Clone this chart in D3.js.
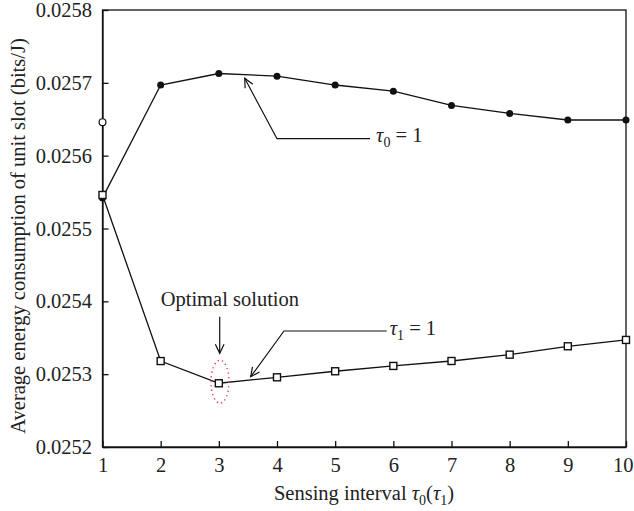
<!DOCTYPE html>
<html>
<head>
<meta charset="utf-8">
<script src="https://cdn.jsdelivr.net/npm/d3@7"></script>
</head>
<body style="margin:0;padding:0;background:#fff">
<svg id="chart" width="634" height="511" style="display:block"></svg>
<script>
// ---- data ----
const intervals = [1, 2, 3, 4, 5, 6, 7, 8, 9, 10];
const tau0Series = [0.025542, 0.025697, 0.0257128, 0.0257092, 0.025697, 0.0256886, 0.025669, 0.025658, 0.025649, 0.025649];
const tau1Series = [0.025546, 0.025318, 0.0252875, 0.0252957, 0.025304, 0.0253113, 0.0253181, 0.0253268, 0.0253383, 0.025347];
const extraPoint = [1, 0.025646]; // open circle on the y axis
const xTicks = [1, 2, 3, 4, 5, 6, 7, 8, 9, 10];
const yTicks = [0.0252, 0.0253, 0.0254, 0.0255, 0.0256, 0.0257, 0.0258];

// annotation anchors in data units
const tau0Callout = [[5.6, 0.0256233], [4.0, 0.0256233], [3.445, 0.0257062]];
const tau1Callout = [[5.886, 0.0253593], [4.12, 0.0253593], [3.548, 0.0252965]];
const optimalArrow = [[3.015, 0.0253789], [3.015, 0.0253287]];
const optimalEllipse = { x: 3.02, y: 0.0252897 };

const FONT = '"Liberation Serif"';
const FS = 20.5, SUB = 14;
const W = 634, H = 511;
const margin = { left: 102.5, right: 8, top: 10, bottom: 64 };
const svg = d3.select("#chart");

const x = d3.scaleLinear().domain([1, 10]).range([margin.left, W - margin.right]);
const y = d3.scaleLinear().domain([0.0252, 0.0258]).range([H - margin.bottom, margin.top]);

const ink = "#111";
const lw = 1.3;

function txt(sel, size) {
  return sel.style("font-family", FONT)
    .style("font-size", size + "px").attr("fill", "#222");
}

// frame
svg.append("rect")
  .attr("x", x(1)).attr("y", y(0.0258))
  .attr("width", x(10) - x(1)).attr("height", y(0.0252) - y(0.0258))
  .attr("fill", "none").attr("stroke", ink).attr("stroke-width", lw);

// axes (ticks inward)
const xAxis = d3.axisBottom(x).tickValues(xTicks).tickFormat(d3.format("d"))
  .tickSizeInner(-6).tickSizeOuter(0).tickPadding(10.5);
const gx = svg.append("g").attr("transform", `translate(0,${y(0.0252)})`).call(xAxis);
const yAxis = d3.axisLeft(y).tickValues(yTicks).tickFormat(d3.format(".4f"))
  .tickSizeInner(-6).tickSizeOuter(0).tickPadding(10.5);
const gy = svg.append("g").attr("transform", `translate(${x(1)},0)`).call(yAxis);
[gx, gy].forEach(g => {
  g.attr("font-family", null).attr("font-size", null);
  g.select(".domain").attr("stroke", ink).attr("stroke-width", lw);
  g.selectAll(".tick line").attr("stroke", ink).attr("stroke-width", lw);
  txt(g.selectAll(".tick text"), FS);
});
// keep the last x label inside the picture
gx.selectAll(".tick text").filter(d => d === 10)
  .attr("text-anchor", "end").attr("x", W - 1 - x(10));

// axis titles
const xt = txt(svg.append("text").attr("x", 364).attr("y", 500).attr("text-anchor", "middle"), FS);
xt.append("tspan").text("Sensing interval ");
xt.append("tspan").style("font-style", "italic").text("τ");
xt.append("tspan").attr("dy", 5).style("font-size", SUB + "px").text("0");
xt.append("tspan").attr("dy", -5).text("(");
xt.append("tspan").style("font-style", "italic").text("τ");
xt.append("tspan").attr("dy", 5).style("font-size", SUB + "px").text("1");
xt.append("tspan").attr("dy", -5).text(")");

txt(svg.append("text")
  .attr("transform", `translate(25,236) rotate(-90)`)
  .attr("text-anchor", "middle"), FS)
  .text("Average energy consumption of unit slot (bits/J)");

// series
const line = d3.line().x((d, i) => x(intervals[i])).y(d => y(d));

svg.append("path").datum(tau1Series).attr("d", line)
  .attr("fill", "none").attr("stroke", ink).attr("stroke-width", lw);
svg.append("path").datum(tau0Series).attr("d", line)
  .attr("fill", "none").attr("stroke", ink).attr("stroke-width", lw);

svg.selectAll("circle.t0").data(tau0Series).enter().append("circle")
  .attr("class", "t0")
  .attr("cx", (d, i) => x(intervals[i])).attr("cy", d => y(d))
  .attr("r", 3.5).attr("fill", ink);

const sq = 7;
svg.selectAll("rect.t1").data(tau1Series).enter().append("rect")
  .attr("class", "t1")
  .attr("x", (d, i) => x(intervals[i]) - sq / 2).attr("y", d => y(d) - sq / 2)
  .attr("width", sq).attr("height", sq)
  .attr("fill", "#fff").attr("stroke", ink).attr("stroke-width", 1.4);

svg.append("circle")
  .attr("cx", x(extraPoint[0])).attr("cy", y(extraPoint[1]))
  .attr("r", 3.4).attr("fill", "#fff").attr("stroke", ink).attr("stroke-width", 1.2);

// annotations
const pline = d3.line().x(d => x(d[0])).y(d => y(d[1]));
function arrowHead(pts) {
  const n = pts.length;
  const tx = x(pts[n - 1][0]), ty = y(pts[n - 1][1]);
  const fx = x(pts[n - 2][0]), fy = y(pts[n - 2][1]);
  const ang = Math.atan2(fy - ty, fx - tx);
  const L = 10, a = 0.45;
  const p1 = [tx + L * Math.cos(ang + a), ty + L * Math.sin(ang + a)];
  const p2 = [tx + L * Math.cos(ang - a), ty + L * Math.sin(ang - a)];
  svg.append("path")
    .attr("d", `M${p1[0]},${p1[1]}L${tx},${ty}L${p2[0]},${p2[1]}`)
    .attr("fill", "none").attr("stroke", ink).attr("stroke-width", 1.2);
}
[tau0Callout, tau1Callout, optimalArrow].forEach(pts => {
  svg.append("path").datum(pts).attr("d", pline)
    .attr("fill", "none").attr("stroke", ink).attr("stroke-width", 1.2);
  arrowHead(pts);
});

function tauLabel(px, py, sub) {
  const t = txt(svg.append("text").attr("x", px).attr("y", py), FS);
  t.append("tspan").style("font-style", "italic").text("τ");
  t.append("tspan").attr("dy", 5).style("font-size", SUB + "px").text(sub);
  t.append("tspan").attr("dy", -5).text(" = 1");
}
tauLabel(x(tau0Callout[0][0]) + 6, y(tau0Callout[0][1]) + 3, "0");
tauLabel(x(tau1Callout[0][0]) + 3, y(tau1Callout[0][1]) + 4, "1");

txt(svg.append("text").attr("x", x(2)).attr("y", y(0.0253936)), FS)
  .text("Optimal solution");

svg.append("ellipse")
  .attr("cx", x(optimalEllipse.x)).attr("cy", y(optimalEllipse.y))
  .attr("rx", 9).attr("ry", 21.5)
  .attr("fill", "none").attr("stroke", "#e8343c").attr("stroke-width", 1.3)
  .attr("stroke-dasharray", "1.3,3.2");
</script>
</body>
</html>
